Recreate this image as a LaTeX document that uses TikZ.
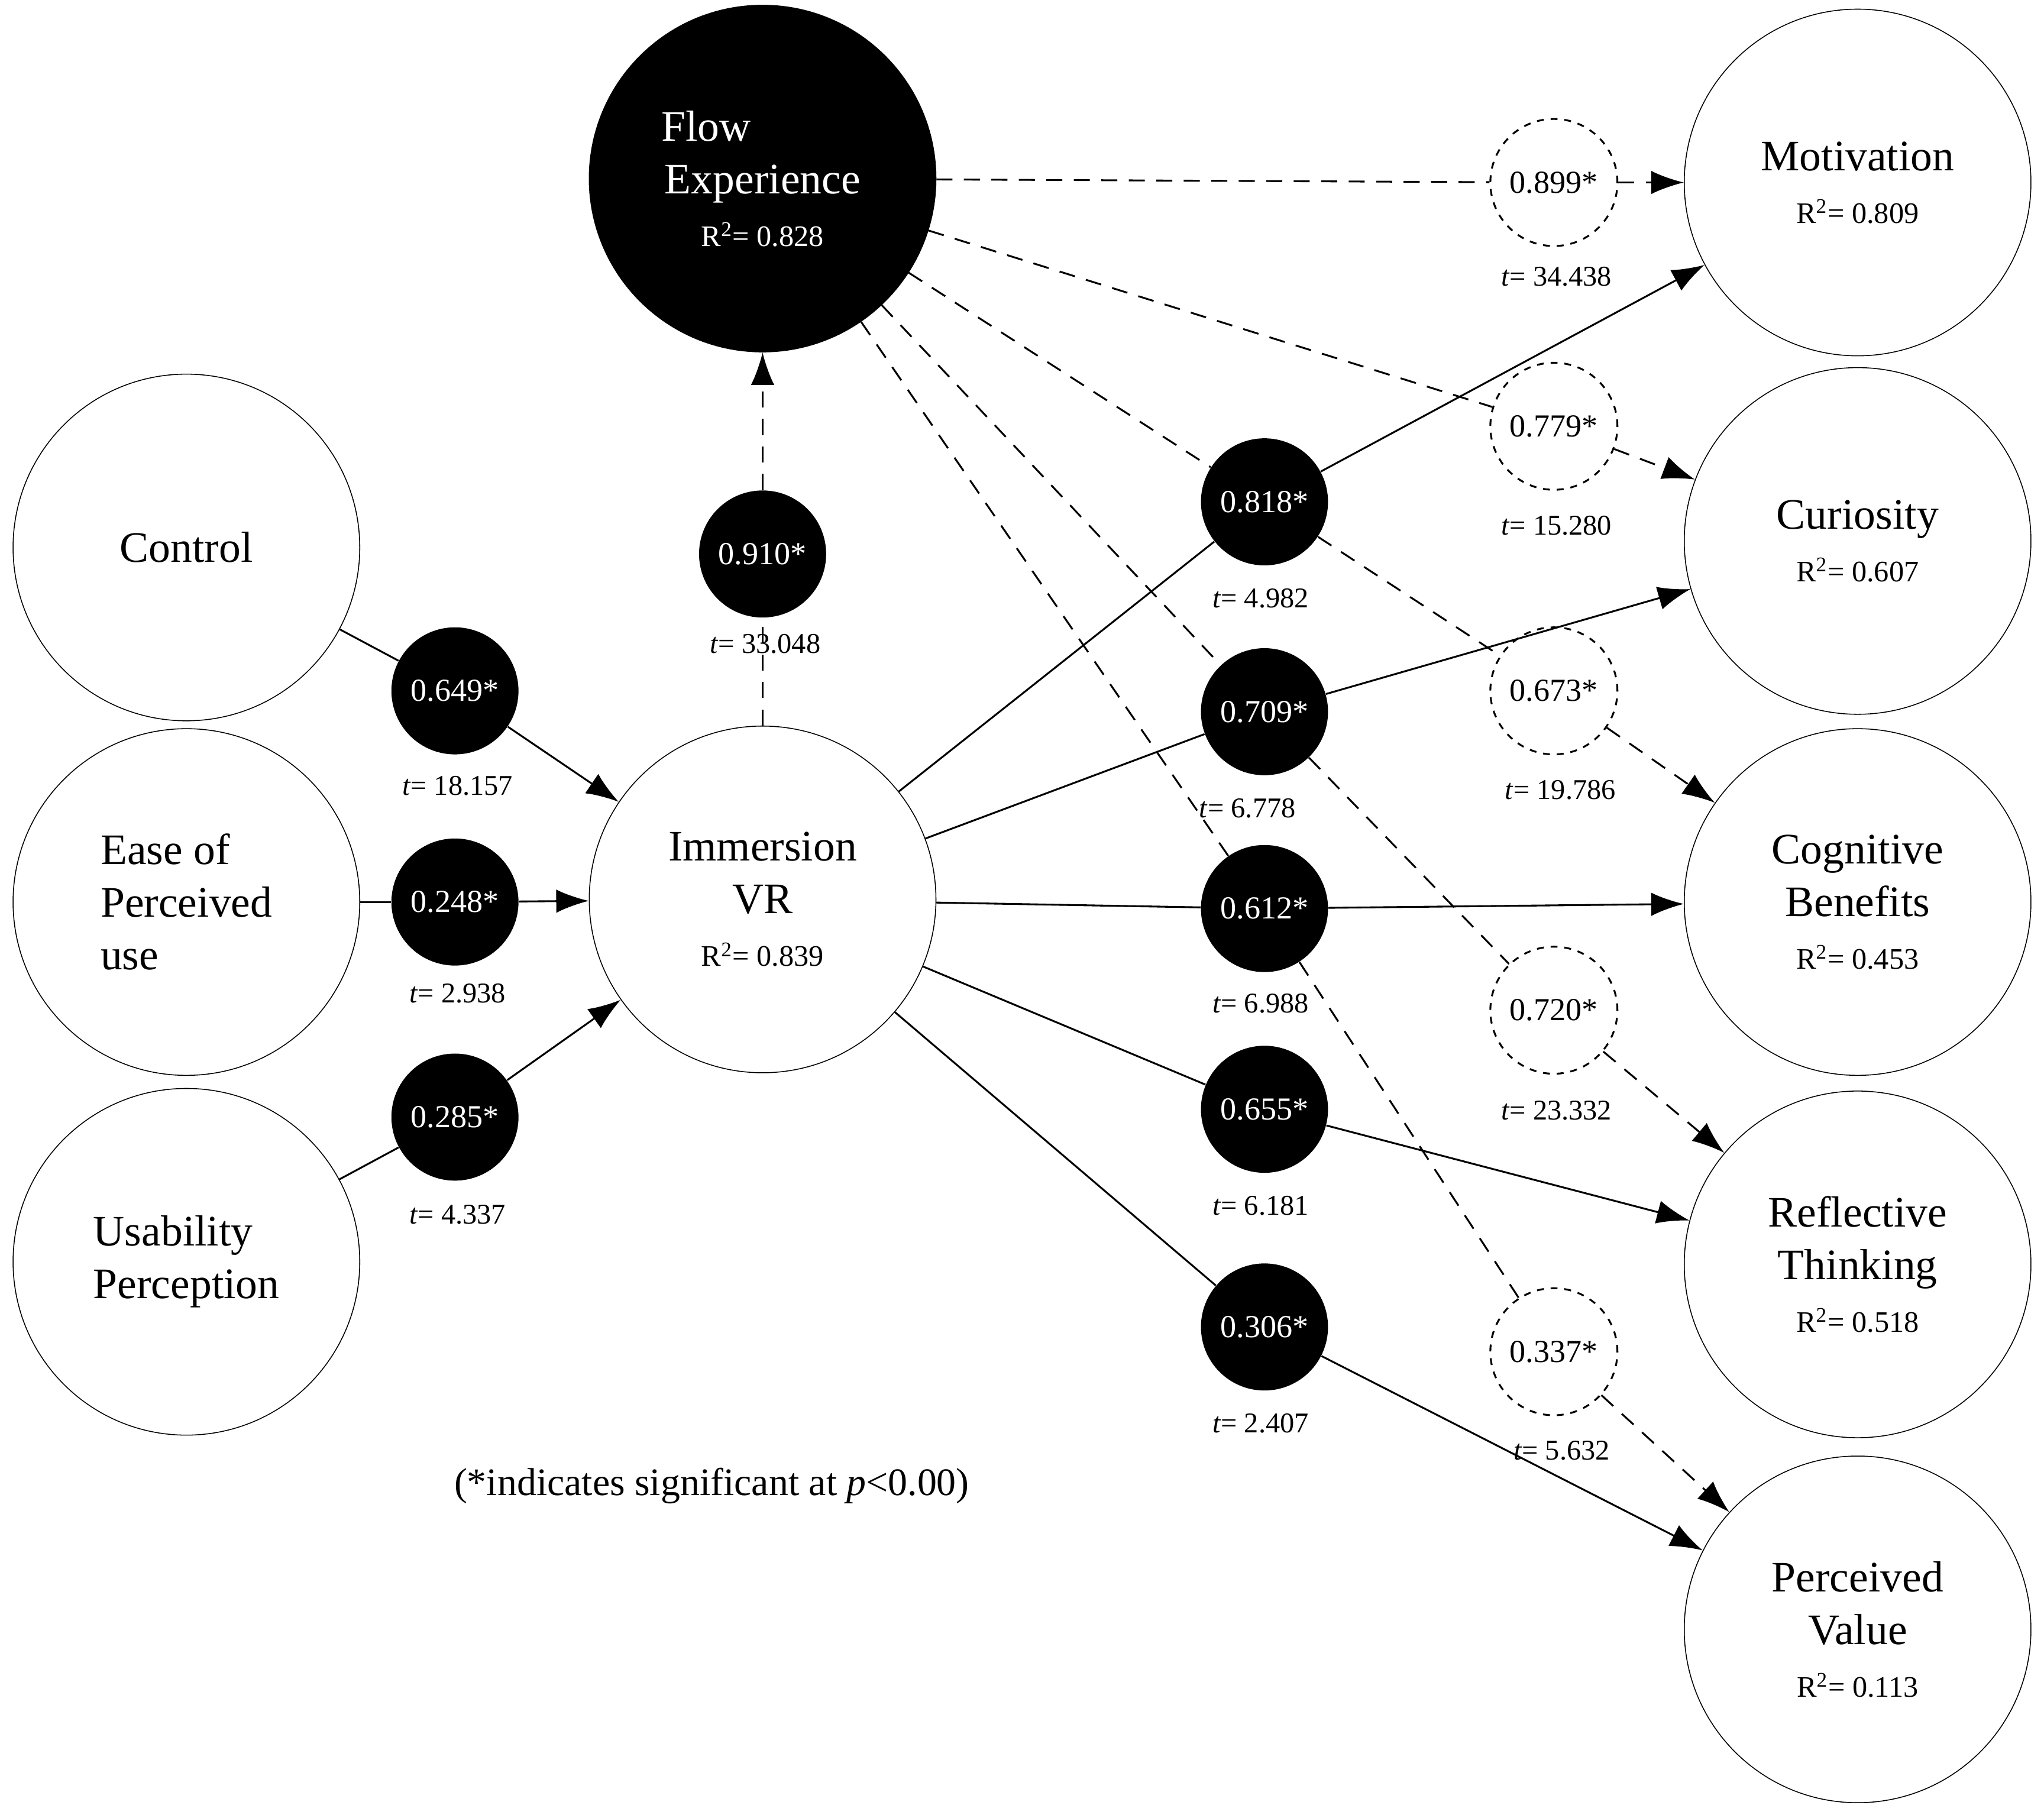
\documentclass[tikz,border=0pt]{standalone}
\usepackage{fontspec}
\setmainfont{Liberation Serif}
\usetikzlibrary{arrows.meta}
\tikzset{
  big/.style={circle, draw, thin, minimum size=5.32cm, align=center, font=\fontsize{19}{23}\selectfont},
  coef/.style={circle, fill=black, text=white, minimum size=1.95cm, inner sep=0, font=\fontsize{14}{16}\selectfont},
  dcoef/.style={circle, draw, dashed, thick, fill=white, minimum size=1.95cm, inner sep=0, font=\fontsize{14}{16}\selectfont},
  tval/.style={font=\fontsize{12.5}{14}\selectfont},
  path/.style={thick},
  dpath/.style={thick, dash pattern=on 7pt off 5pt},
  tip/.style={-{Latex[length=5mm, width=3.6mm]}},
}
\newcommand\rsq[1]{{\fontsize{13}{15}\selectfont R\textsuperscript{2}= #1}}
\begin{document}
\begin{tikzpicture}[x=0.02cm, y=-0.02cm]
\useasboundingbox (0,0) rectangle (1568,1392);

% constructs
\node[big] (ctrl) at (143,420) {Control};
\node[big, align=left] (ease) at (143,692) {Ease of\\Perceived\\use};
\node[big, align=left] (usab) at (143,968) {Usability\\Perception};
\node[big] (vr) at (585,690) {Immersion\\VR\\\rsq{0.839}};
\node[big, fill=black, text=white] (flow) at (585,137) {Flow\hspace{2.6em}\null\\Experience\\\rsq{0.828}};
\node[big] (mot) at (1425,140) {Motivation\\\rsq{0.809}};
\node[big] (cur) at (1425,415) {Curiosity\\\rsq{0.607}};
\node[big] (cog) at (1425,692) {Cognitive\\Benefits\\\rsq{0.453}};
\node[big] (refl) at (1425,970) {Reflective\\Thinking\\\rsq{0.518}};
\node[big] (pv) at (1425,1250) {Perceived\\Value\\\rsq{0.113}};

% coefficients
\node[coef] (c1) at (349,530) {0.649*};
\node[coef] (c2) at (349,692) {0.248*};
\node[coef] (c3) at (349,857) {0.285*};
\node[coef] (c4) at (585,425) {0.910*};
\node[coef] (c5) at (970,385) {0.818*};
\node[coef] (c6) at (970,546) {0.709*};
\node[coef] (c7) at (970,697) {0.612*};
\node[coef] (c8) at (970,851) {0.655*};
\node[coef] (c9) at (970,1018) {0.306*};
\node[dcoef] (d1) at (1192,140) {0.899*};
\node[dcoef] (d2) at (1192,327) {0.779*};
\node[dcoef] (d3) at (1192,530) {0.673*};
\node[dcoef] (d4) at (1192,775) {0.720*};
\node[dcoef] (d5) at (1192,1037) {0.337*};

% paths
\draw[path] (ctrl) -- (c1);
\draw[path, tip] (c1) -- (vr);
\draw[path] (ease) -- (c2);
\draw[path, tip] (c2) -- (vr);
\draw[path] (usab) -- (c3);
\draw[path, tip] (c3) -- (vr);
\draw[dpath] (vr) -- (c4);
\draw[dpath, tip] (c4) -- (flow);
\foreach \c/\t in {c5/mot, c6/cur, c7/cog, c8/refl, c9/pv} {
  \draw[path] (vr) -- (\c);
  \draw[path, tip] (\c) -- (\t);
}
\draw[dpath] (flow) -- (d1);
\draw[dpath, tip] (d1) -- (mot);
\draw[dpath] (flow) -- (d2);
\draw[dpath, tip] (d2) -- (cur);
\foreach \c/\d/\t in {c5/d3/cog, c6/d4/refl, c7/d5/pv} {
  \draw[dpath] (flow) -- (\c);
  \draw[dpath] (\c) -- (\d);
  \draw[dpath, tip] (\d) -- (\t);
}

% t values
\node[tval] (t1) at (351,603) {\textit{t}= 18.157};
\node[tval] (t2) at (351,762) {\textit{t}= 2.938};
\node[tval] (t3) at (351,932) {\textit{t}= 4.337};
\node[tval] (t4) at (587,494) {\textit{t}= 33.048};
\node[tval] (t5) at (967,459) {\textit{t}= 4.982};
\node[tval] (t6) at (957,620) {\textit{t}= 6.778};
\node[tval] (t7) at (967,770) {\textit{t}= 6.988};
\node[tval] (t8) at (967,925) {\textit{t}= 6.181};
\node[tval] (t9) at (967,1092) {\textit{t}= 2.407};
\node[tval] (t10) at (1194,212) {\textit{t}= 34.438};
\node[tval] (t11) at (1194,403) {\textit{t}= 15.280};
\node[tval] (t12) at (1197,606) {\textit{t}= 19.786};
\node[tval] (t13) at (1194,852) {\textit{t}= 23.332};
\node[tval] (t14) at (1198,1113) {\textit{t}= 5.632};

\node[font=\fontsize{17}{20}\selectfont] (note) at (546,1140) {(*indicates significant at \textit{p}<0.00)};
\end{tikzpicture}
\end{document}
